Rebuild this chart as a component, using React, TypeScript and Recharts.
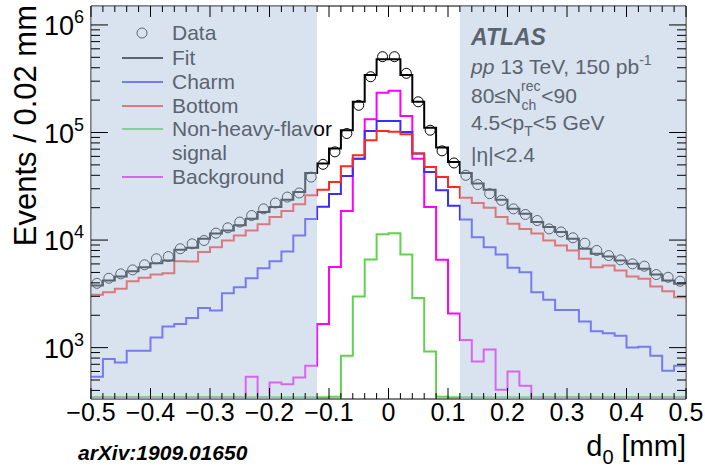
import { ComposedChart, Line, Scatter, XAxis, YAxis, ReferenceArea } from 'recharts'

// histogram binning (d0 in mm)
const BIN_LO = -0.5
const BIN_W = 0.02
const NBINS = 50

// events per bin
const dataVals = [
  3960, 4420, 4850, 5280, 5890, 6700, 7030, 8300, 9230, 9910,
  11600, 13000, 14700, 16900, 19500, 22100, 25100, 27400, 38500, 50600,
  66100, 97900, 179000, 330000, 507000, 507000, 355000, 193000, 105000, 67500,
  52100, 40000, 32800, 27000, 23400, 19500, 17300, 15200, 12700, 11900,
  10500, 9350, 8000, 7180, 6550, 6010, 5720, 4780, 4510, 4140,
]
const fitVals = [
  3780, 4200, 4580, 5130, 5600, 6100, 6460, 8130, 8470, 10300,
  11500, 12300, 13700, 15800, 18200, 20300, 23700, 28000, 42100, 51400,
  71000, 105000, 193000, 342000, 479000, 479000, 342000, 193000, 111000, 72400,
  53200, 42100, 33500, 29400, 23700, 19500, 17600, 14700, 13200, 11900,
  10300, 8300, 7450, 7030, 6460, 6010, 5400, 4780, 4200, 3920,
]
const charmVals = [
  536, 783, 728, 935, 935, 1245, 1570, 1660, 1890, 2340,
  2210, 3200, 3640, 4420, 5460, 6370, 7850, 11000, 15700, 20400,
  26800, 39500, 57100, 103500, 128000, 128000, 101000, 63700, 43000, 29000,
  20900, 15500, 10600, 8590, 7350, 5520, 5020, 3270, 2780, 2240,
  2240, 1750, 1420, 1360, 1290, 1005, 1020, 841, 610, 678,
]
const bottomVals = [
  3110, 3270, 3520, 4140, 4460, 4780, 4920, 6370, 6320, 7730,
  8590, 9910, 11000, 12300, 14000, 16400, 18600, 21500, 26100, 29400,
  34700, 48500, 61400, 84700, 103500, 101400, 96400, 63700, 47900, 38600,
  31100, 24800, 22100, 20000, 16400, 14200, 12700, 11500, 9910, 8910,
  8000, 6700, 5600, 5790, 5210, 4580, 4360, 3700, 3340, 2940,
]
const nhfVals = [
  0, 0, 0, 0, 0, 0, 0, 0, 0, 0,
  0, 0, 0, 0, 0, 0, 0, 0, 0, 0,
  350, 841, 2980, 6610, 11300, 11600, 7350, 2900, 923, 350,
  0, 0, 0, 0, 0, 0, 0, 0, 0, 0,
  0, 0, 0, 0, 0, 0, 0, 0, 0, 0,
]
const bkgVals = [
  0, 0, 0, 0, 0, 0, 0, 0, 0, 0,
  0, 0, 0, 536, 0, 474, 457, 528, 678, 1660,
  5620, 18600, 57100, 133000, 234000, 244000, 142000, 57100, 20300, 6550,
  2080, 1180, 743, 962, 406, 600, 442, 0, 0, 0,
  0, 0, 0, 0, 0, 0, 0, 0, 0, 0,
]

const X_MAJOR = [-0.5, -0.4, -0.3, -0.2, -0.1, 0, 0.1, 0.2, 0.3, 0.4, 0.5]
const X_LABELS = ['\u22120.5', '\u22120.4', '\u22120.3', '\u22120.2', '\u22120.1', '0', '0.1', '0.2', '0.3', '0.4', '0.5']
const Y_DOMAIN: [number, number] = [333, 1.5e6]
const FLOOR = 345 // empty bins sit on the frame, like ROOT does on log scale
const SIDEBANDS: [number, number][] = [[-0.5, -0.12], [0.12, 0.5]]

const C = {
  fit: '#000000',
  charm: '#3b2cff',
  bottom: '#ff2a1c',
  nhf: '#5fd34a',
  bkg: '#ff00ff',
}

// colour seen through the sideband veil (rgb(180,200,224) at 50%)
function veiled(hex: string) {
  const n = parseInt(hex.slice(1), 16)
  const r = Math.round(((n >> 16) & 255) * 0.5 + 90)
  const g = Math.round(((n >> 8) & 255) * 0.5 + 100)
  const b = Math.round((n & 255) * 0.5 + 112)
  return `rgb(${r},${g},${b})`
}
const GREY = veiled('#000000')

const edges = Array.from({ length: NBINS + 1 }, (_, i) => +(BIN_LO + i * BIN_W).toFixed(2))
const onLog = (v: number) => (v > 0 ? v : FLOOR)
const table = edges.map((x, i) => {
  const b = Math.min(i, NBINS - 1)
  return {
    x,
    fit: fitVals[b],
    charm: charmVals[b],
    bottom: bottomVals[b],
    nhf: onLog(nhfVals[b]),
    bkg: onLog(bkgVals[b]),
  }
})
const points = dataVals.map((y, i) => ({ x: +(BIN_LO + (i + 0.5) * BIN_W).toFixed(3), y }))

const yTicks: number[] = []
for (let e = 2; e <= 6; e++) for (let m = 1; m <= 9; m++) {
  const v = m * 10 ** e
  if (v >= Y_DOMAIN[0] && v <= Y_DOMAIN[1]) yTicks.push(v)
}

function XTick(props: any) {
  const { x, y, payload, top } = props
  const idx = X_MAJOR.findIndex((m) => Math.abs(m - payload.value) < 1e-6)
  const len = idx >= 0 ? 11 : 6
  const dir = top ? 1 : -1
  return (
    <g>
      <line x1={x} x2={x} y1={y} y2={y + dir * len} stroke="#000" strokeWidth={1} />
      {!top && idx >= 0 && (
        <text x={x} y={y + 22} textAnchor="middle" fontSize={25} fill="#000">
          {X_LABELS[idx]}
        </text>
      )}
    </g>
  )
}

function YTick(props: any) {
  const { x, y, payload, right } = props
  const e = Math.log10(payload.value)
  const major = Math.abs(e - Math.round(e)) < 1e-6
  const len = major ? 17 : 9
  const dir = right ? -1 : 1
  return (
    <g>
      <line x1={x} x2={x + dir * len} y1={y} y2={y} stroke="#000" strokeWidth={1} />
      {!right && major && (
        <text x={x - 7} y={y + 10} textAnchor="end" fontSize={27} fill="#000">
          10<tspan dy={-12} fontSize={18}>{Math.round(e)}</tspan>
        </text>
      )}
    </g>
  )
}

const legendRows = [
  { label: 'Fit', color: C.fit, y: 58 },
  { label: 'Charm', color: C.charm, y: 82 },
  { label: 'Bottom', color: C.bottom, y: 106 },
  { label: 'Non-heavy-flavor', color: C.nhf, y: 129 },
  { label: 'Background', color: C.bkg, y: 177 },
]

export default function App() {
  return (
    <div style={{ position: 'absolute', left: 0, top: 0, width: 705, height: 474, fontFamily: '"Liberation Sans", Arial, sans-serif' }}>
      <ComposedChart width={705} height={474} data={table} margin={{ top: 0, right: 0, bottom: 0, left: 0 }}>
        <XAxis
          dataKey="x" type="number" domain={[-0.5, 0.5]} allowDataOverflow ticks={edges} interval={0}
          height={75} tickSize={0} tickMargin={0} axisLine={{ stroke: '#000' }} tickLine={false}
          tick={(p: any) => <XTick {...p} />}
        />
        <XAxis
          xAxisId="t" orientation="top" dataKey="x" type="number" domain={[-0.5, 0.5]} allowDataOverflow
          ticks={edges} interval={0} height={6} tickSize={0} tickMargin={0} axisLine={{ stroke: '#000' }} tickLine={false}
          tick={(p: any) => <XTick {...p} top />}
        />
        <YAxis
          scale="log" type="number" domain={Y_DOMAIN} allowDataOverflow ticks={yTicks} interval={0}
          width={91} tickSize={0} tickMargin={0} axisLine={{ stroke: '#000' }} tickLine={false}
          tick={(p: any) => <YTick {...p} />}
        />
        <YAxis
          yAxisId="r" orientation="right" scale="log" type="number" domain={Y_DOMAIN} allowDataOverflow
          ticks={yTicks} interval={0} width={19} tickSize={0} tickMargin={0} axisLine={{ stroke: '#000' }} tickLine={false}
          tick={(p: any) => <YTick {...p} right />}
        />
        <Line type="stepAfter" dataKey="bkg" stroke={C.bkg} strokeWidth={2} dot={false} activeDot={false} isAnimationActive={false} />
        <Line type="stepAfter" dataKey="nhf" stroke={C.nhf} strokeWidth={2} dot={false} activeDot={false} isAnimationActive={false} />
        <Line type="stepAfter" dataKey="charm" stroke={C.charm} strokeWidth={2} dot={false} activeDot={false} isAnimationActive={false} />
        <Line type="stepAfter" dataKey="bottom" stroke={C.bottom} strokeWidth={2} dot={false} activeDot={false} isAnimationActive={false} />
        <Scatter
          data={points} dataKey="y" isAnimationActive={false}
          shape={(p: any) => <circle cx={p.cx} cy={p.cy} r={5} fill="none" stroke="#000" strokeWidth={1} />}
        />
        <Line type="stepAfter" dataKey="fit" stroke={C.fit} strokeWidth={2} dot={false} activeDot={false} isAnimationActive={false} />
        {SIDEBANDS.map(([a, b]) => (
          <ReferenceArea key={a} x1={a} x2={b} fill="rgb(180,200,224)" fillOpacity={0.5} stroke="none" zIndex={1000} ifOverflow="hidden" />
        ))}
      </ComposedChart>

      <svg width={705} height={474} style={{ position: 'absolute', left: 0, top: 0, pointerEvents: 'none' }}>
        <text transform="translate(36,5) rotate(-90)" textAnchor="end" fontSize={31} fill="#000">Events / 0.02 mm</text>
        <text x={686} y={456} textAnchor="end" fontSize={29} fill="#000">
          d<tspan dy={8} fontSize={20}>0</tspan><tspan dy={-8}> [mm]</tspan>
        </text>
        <text x={78} y={460} fontSize={21} fontWeight="bold" fontStyle="italic" fill="#000">arXiv:1909.01650</text>

        {/* legend, sits inside the left sideband */}
        <circle cx={142} cy={33} r={5} fill="none" stroke={GREY} strokeWidth={1} />
        <text x={172} y={40} fontSize={21} fill={GREY}>Data</text>
        {legendRows.map((r) => (
          <g key={r.label}>
            <line x1={122} x2={163} y1={r.y} y2={r.y} stroke={veiled(r.color)} strokeWidth={2} />
            {r.label === 'Non-heavy-flavor' ? (
              <text x={172} y={r.y + 7} fontSize={21} fill={GREY}>
                Non-heavy-flav<tspan fill="#000">or</tspan>
              </text>
            ) : (
              <text x={172} y={r.y + 7} fontSize={21} fill={GREY}>{r.label}</text>
            )}
          </g>
        ))}
        <text x={172} y={160} fontSize={21} fill={GREY}>signal</text>

        {/* ATLAS label, inside the right sideband */}
        <text x={471} y={45} fontSize={23} fontWeight="bold" fontStyle="italic" fill={GREY}>ATLAS</text>
        <text x={471} y={74} fontSize={21} fill={GREY}>
          <tspan fontStyle="italic">pp</tspan> 13 TeV, 150 pb<tspan dy={-9} fontSize={14}>-1</tspan>
        </text>
        <text x={471} y={103} fontSize={21} fill={GREY}>
          80≤N<tspan dy={-12} fontSize={14}>rec</tspan><tspan dx={-19} dy={19} fontSize={14}>ch</tspan><tspan dx={5} dy={-7}>&lt;90</tspan>
        </text>
        <text x={471} y={130} fontSize={21} fill={GREY}>
          4.5&lt;p<tspan dy={6} fontSize={14}>T</tspan><tspan dy={-6}>&lt;5 GeV</tspan>
        </text>
        <text x={471} y={162} fontSize={21} fill={GREY}>|η|&lt;2.4</text>
      </svg>
    </div>
  )
}
